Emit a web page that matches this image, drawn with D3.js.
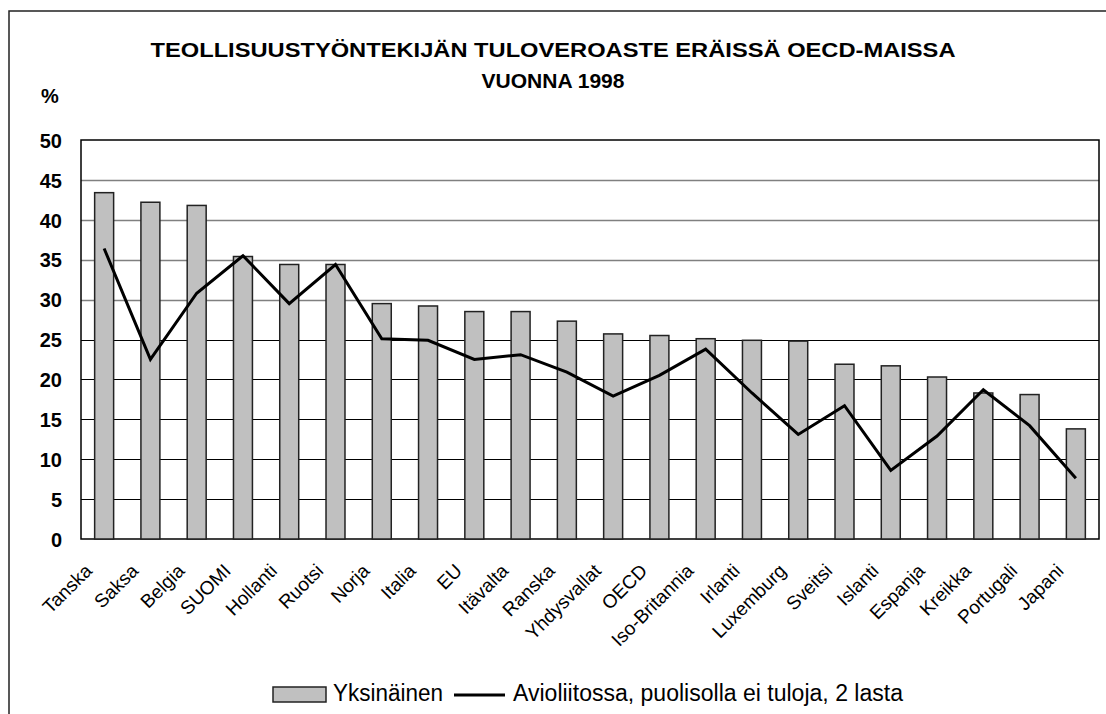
<!DOCTYPE html>
<html>
<head>
<meta charset="utf-8">
<script src="https://cdn.jsdelivr.net/npm/d3@7"></script>
<style>
  body { margin: 0; background: #fff; }
  svg { display: block; font-family: "Liberation Sans", Arial, sans-serif; }
</style>
</head>
<body>
<svg id="canvas" width="1106" height="714"></svg>
<script>
// data
const countries = ["Tanska", "Saksa", "Belgia", "SUOMI", "Hollanti", "Ruotsi", "Norja", "Italia", "EU",
  "Itävalta", "Ranska", "Yhdysvallat", "OECD", "Iso-Britannia", "Irlanti", "Luxemburg", "Sveitsi",
  "Islanti", "Espanja", "Kreikka", "Portugali", "Japani"]
const single = [43.4, 42.2, 41.8, 35.4, 34.4, 34.4, 29.5, 29.2, 28.5, 28.5, 27.3, 25.7, 25.5, 25.1,
  24.9, 24.8, 21.9, 21.7, 20.3, 18.3, 18.1, 13.8]
const married = [36.4, 22.5, 30.8, 35.5, 29.5, 34.4, 25.1, 24.9, 22.5, 23.1, 20.9, 17.9, 20.5, 23.8,
  18.3, 13.1, 16.7, 8.6, 12.9, 18.7, 14.2, 7.6]
const yTicks = [0, 5, 10, 15, 20, 25, 30, 35, 40, 45, 50]
const titleLines = ["TEOLLISUUSTYÖNTEKIJÄN TULOVEROASTE ERÄISSÄ OECD-MAISSA", "VUONNA 1998"]
const legendNames = ["Yksinäinen", "Avioliitossa, puolisolla ei tuloja, 2 lasta"]

const svg = d3.select('#canvas')

const plot = { left: 81, right: 1099, top: 140, bottom: 539 }

// outer frame (cut off on the right and bottom like the reference)
svg.append('rect')
  .attr('x', 9).attr('y', 11)
  .attr('width', 1140).attr('height', 760)
  .attr('fill', 'none')
  .attr('stroke', '#222')
  .attr('stroke-width', 1.5)

const xScale = d3.scaleBand()
  .domain(countries)
  .range([plot.left, plot.right])
  .paddingInner(0.59)
  .paddingOuter(0.295)

const yScale = d3.scaleLinear()
  .domain([0, 50])
  .range([plot.bottom, plot.top])

// gridlines
svg.append('g')
  .selectAll('line')
  .data(yTicks.filter(d => d > 0 && d < 50))
  .enter()
  .append('line')
  .attr('x1', plot.left).attr('x2', plot.right)
  .attr('y1', d => Math.round(yScale(d)) + 0.5)
  .attr('y2', d => Math.round(yScale(d)) + 0.5)
  .attr('stroke', d => d >= 30 ? '#808080' : '#000')
  .attr('stroke-width', d => d >= 30 ? 1.5 : 1)

// plot frame
svg.append('rect')
  .attr('x', plot.left).attr('y', plot.top)
  .attr('width', plot.right - plot.left)
  .attr('height', plot.bottom - plot.top)
  .attr('fill', 'none')
  .attr('stroke', '#000')
  .attr('stroke-width', 1.5)

// bars
svg.append('g')
  .selectAll('rect')
  .data(countries)
  .enter()
  .append('rect')
  .attr('x', d => xScale(d))
  .attr('width', xScale.bandwidth())
  .attr('y', (d, i) => yScale(single[i]))
  .attr('height', (d, i) => yScale(0) - yScale(single[i]))
  .attr('fill', '#c0c0c0')
  .attr('stroke', '#222')
  .attr('stroke-width', 1.5)

// line
const line = d3.line()
  .x((d, i) => xScale(countries[i]) + xScale.bandwidth() / 2)
  .y(d => yScale(d))

svg.append('path')
  .datum(married)
  .attr('d', line)
  .attr('fill', 'none')
  .attr('stroke', '#000')
  .attr('stroke-width', 3)

// y axis
const yAxis = d3.axisLeft(yScale)
  .tickValues(yTicks)
  .tickSize(0)
  .tickPadding(0)

svg.append('g')
  .attr('transform', `translate(62, 0)`)
  .call(yAxis)
  .call(g => g.select('.domain').remove())
  .selectAll('text')
  .attr('font-family', '"Liberation Sans", Arial, sans-serif')
  .attr('font-size', 20)
  .attr('font-weight', 'bold')
  .attr('fill', '#000')
  .attr('dy', '0.36em')

// x axis labels, rotated
const xAxis = d3.axisBottom(xScale).tickSize(0).tickPadding(0)

svg.append('g')
  .attr('transform', `translate(0, ${plot.bottom})`)
  .call(xAxis)
  .call(g => g.select('.domain').remove())
  .selectAll('text')
  .attr('font-family', '"Liberation Sans", Arial, sans-serif')
  .attr('font-size', 19)
  .attr('fill', '#000')
  .attr('text-anchor', 'end')
  .attr('dy', 0)
  .attr('transform', 'translate(-11, 33) rotate(-45)')

// title
svg.append('g')
  .selectAll('text')
  .data(titleLines)
  .enter()
  .append('text')
  .attr('x', 553)
  .attr('y', (d, i) => 57 + i * 31)
  .attr('text-anchor', 'middle')
  .attr('font-size', 21)
  .attr('font-weight', 'bold')
  .attr('textLength', (d, i) => i === 0 ? 805 : 143)
  .attr('lengthAdjust', 'spacingAndGlyphs')
  .text(d => d)

svg.append('text')
  .attr('x', 50).attr('y', 103)
  .attr('text-anchor', 'middle')
  .attr('font-size', 20)
  .attr('font-weight', 'bold')
  .text('%')

// legend
const legend = svg.append('g').attr('transform', 'translate(273, 687)')
legend.append('rect')
  .attr('width', 53).attr('height', 15)
  .attr('fill', '#c0c0c0')
  .attr('stroke', '#222')
  .attr('stroke-width', 1.5)
legend.append('text')
  .attr('x', 60).attr('y', 14)
  .attr('font-size', 23)
  .attr('textLength', 110)
  .attr('lengthAdjust', 'spacingAndGlyphs')
  .text(legendNames[0])
legend.append('line')
  .attr('x1', 181).attr('x2', 232)
  .attr('y1', 8).attr('y2', 8)
  .attr('stroke', '#000')
  .attr('stroke-width', 3)
legend.append('text')
  .attr('x', 240).attr('y', 14)
  .attr('font-size', 23)
  .attr('textLength', 390)
  .attr('lengthAdjust', 'spacingAndGlyphs')
  .text(legendNames[1])
</script>
</body>
</html>
